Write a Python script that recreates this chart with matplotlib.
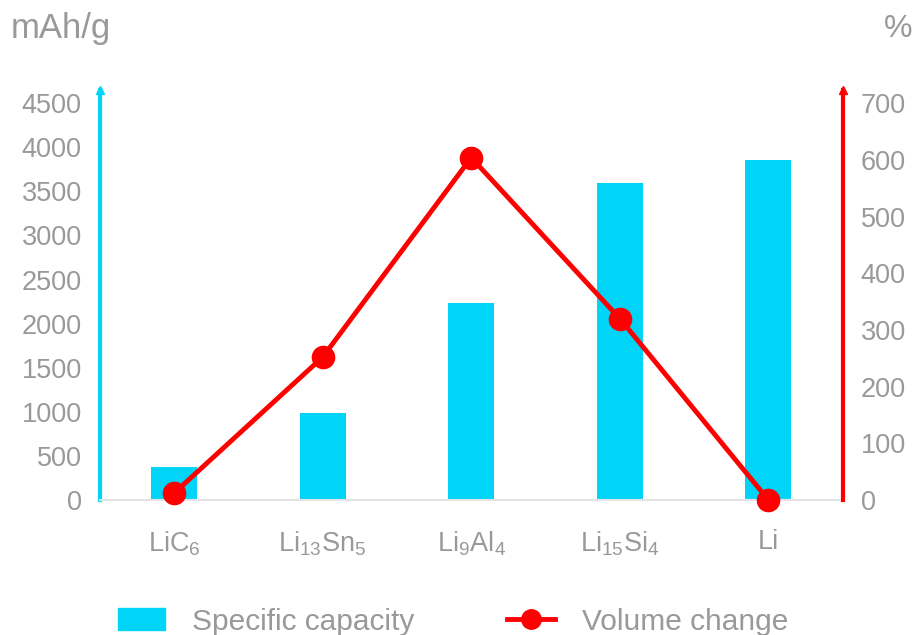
import matplotlib
matplotlib.use("Agg")
import matplotlib.pyplot as plt
from matplotlib.patches import Patch
from matplotlib.lines import Line2D

plt.rcParams["font.family"] = ["Liberation Sans", "DejaVu Sans"]
plt.rcParams["mathtext.fontset"] = "custom"
plt.rcParams["mathtext.rm"] = "Liberation Sans"
plt.rcParams["mathtext.it"] = "Liberation Sans"
plt.rcParams["mathtext.default"] = "rm"

# Data
materials = [r"LiC$_6$", r"Li$_{13}$Sn$_5$", r"Li$_9$Al$_4$", r"Li$_{15}$Si$_4$", "Li"]
capacity = [372, 990, 2235, 3600, 3860]          # mAh/g
volume_change = [12, 252, 604, 320, 0]           # %
cap_ticks = [0, 500, 1000, 1500, 2000, 2500, 3000, 3500, 4000, 4500]
vol_ticks = [0, 100, 200, 300, 400, 500, 600, 700]

CYAN = "#00d5f8"
RED = "#ff0000"
GRAY = "#999999"

fig = plt.figure(figsize=(9.15, 6.35), dpi=100)
ax = fig.add_axes([0.109, 0.2126, 0.812, 0.6457])
ax2 = ax.twinx()

x = list(range(len(materials)))
ax.bar(x, capacity, width=0.31, color=CYAN, zorder=2)
ax.set_xlim(-0.5, len(materials) - 0.5)
ax.set_ylim(0, 4650)
ax.set_yticks(cap_ticks)
ax2.set_ylim(0, 4650 * 700 / 4500)
ax2.set_yticks(vol_ticks)

ax2.plot(x, volume_change, color=RED, lw=3.5, marker="o", ms=16,
         solid_capstyle="round", zorder=5, clip_on=False)

for a in (ax, ax2):
    a.spines["top"].set_visible(False)
    a.tick_params(length=0, labelsize=19.5, colors=GRAY)
ax.tick_params(axis="y", pad=13)
ax2.tick_params(axis="y", pad=13)
ax.tick_params(axis="x", pad=21)
ax.set_xticks(x)
ax.set_xticklabels(materials)

ax.spines["left"].set_color(CYAN)
ax.spines["left"].set_linewidth(3)
ax.spines["right"].set_visible(False)
ax2.spines["left"].set_visible(False)
ax2.spines["right"].set_color(RED)
ax2.spines["right"].set_linewidth(3)
ax.spines["bottom"].set_color("#e3e3e3")
ax.spines["bottom"].set_linewidth(1.5)
ax2.spines["bottom"].set_visible(False)

# arrowheads at the top of the two value axes
ax.plot([0], [1], marker="^", ms=6, color=CYAN, transform=ax.transAxes, clip_on=False)
ax2.plot([1], [1], marker="^", ms=6, color=RED, transform=ax2.transAxes, clip_on=False)

fig.text(0.012, 0.955, "mAh/g", fontsize=25, color=GRAY, ha="left", va="center")
fig.text(0.997, 0.955, "%", fontsize=23, color=GRAY, ha="right", va="center")

handles = [Patch(color=CYAN),
           Line2D([], [], color=RED, lw=3.5, marker="o", ms=14)]
fig.legend(handles, ["Specific capacity", "Volume change"], loc="center",
           bbox_to_anchor=(0.495, 0.021), ncol=2, frameon=False, fontsize=21.5,
           labelcolor=GRAY, handlelength=1.6, handleheight=0.75,
           handletextpad=0.9, columnspacing=3.1)

fig.savefig("out.png", dpi=100)
